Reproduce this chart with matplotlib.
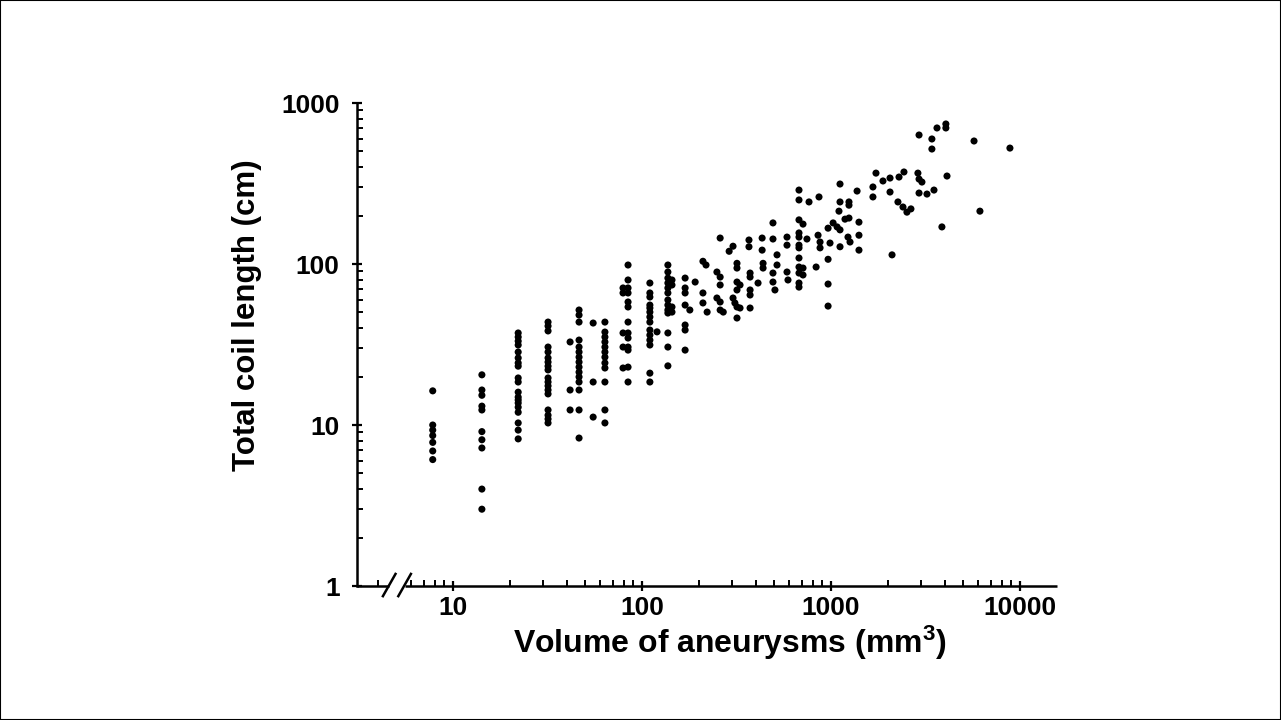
import matplotlib
matplotlib.use("Agg")
import matplotlib.pyplot as plt
from matplotlib.patches import Rectangle
from matplotlib.lines import Line2D
import numpy as np

plt.rcParams['font.family'] = ['Liberation Sans', 'DejaVu Sans']
plt.rcParams['mathtext.fontset'] = 'custom'
plt.rcParams['mathtext.rm'] = 'Liberation Sans:bold'
plt.rcParams['mathtext.default'] = 'rm'

# ---- data: small aneurysms, grouped in columns of equal volume (mm3) ----
col_volumes = [7.8, 14.2, 22.1, 31.8, 41.6, 46.4, 55.1, 63.6, 79.3, 84.3,
               110, 120, 137, 144, 169, 677, 711]
col_lengths = [
    [16.3, 10.0, 9.3, 8.6, 7.8, 6.9, 6.1],
    [20.5, 16.5, 15.3, 13.1, 12.4, 9.1, 8.1, 7.2, 4.0, 3.0],
    [37.3, 35.2, 33.2, 31.4, 28.4, 26.1, 24.3, 23.2, 19.6, 18.5, 16.0, 14.9,
     14.3, 13.7, 12.9, 12.0, 10.3, 9.3, 8.2],
    [43.6, 41.2, 38.4, 30.5, 28.4, 26.1, 24.6, 23.2, 22.0, 19.6, 18.5, 17.5,
     16.5, 15.6, 12.4, 11.5, 10.9, 10.3],
    [32.8, 16.5, 12.4],
    [51.8, 48.2, 43.6, 33.7, 30.5, 28.4, 26.4, 24.6, 22.9, 21.3, 19.9, 18.5,
     16.5, 12.4, 8.3],
    [43.0, 18.5, 11.2],
    [43.6, 37.8, 35.2, 32.8, 30.5, 28.4, 26.4, 24.3, 22.6, 18.5, 12.4, 10.3],
    [71.0, 66.1, 37.3, 30.5, 22.6],
    [98.6, 79.6, 71.0, 66.1, 58.1, 54.1, 43.6, 37.3, 34.7, 30.5, 29.2, 22.9, 18.5],
    [76.2, 66.1, 62.4, 55.6, 53.3, 50.3, 46.9, 43.6, 38.9, 36.2, 33.7, 31.4, 21.0, 18.5],
    [37.9],
    [98.6, 89.2, 81.8, 76.2, 71.0, 66.1, 59.8, 55.6, 51.8, 49.6, 37.3, 30.5, 23.3],
    [79.6, 74.1, 54.1, 50.3],
    [81.8, 71.0, 66.1, 55.6, 41.8, 38.9, 29.2],
    [288, 250, 188, 156, 147, 131, 126, 109, 95.8, 87.9, 76.2, 71.9],
    [177, 94.4, 85.5],
]

# ---- data: medium aneurysms (scattered) ----
mid_volume = [259, 303, 289, 210, 218, 368, 368, 432, 432, 493, 493, 585, 585,
              318, 318, 373, 373, 437, 437, 518, 518, 249, 259, 259, 318, 330,
              318, 373, 373, 411, 493, 493, 505, 585, 592, 191, 179, 210, 210,
              221, 249, 259, 259, 269, 303, 310, 318, 330, 373, 318]
mid_length = [145, 129, 120, 104, 98.6, 141, 128, 145, 122, 180, 143, 147, 131,
              101, 94.4, 87.9, 83.0, 101, 94.4, 114, 98.6, 89.2, 83.0, 74.1, 77.3, 74.1,
              69.0, 69.0, 64.2, 76.2, 87.9, 77.3, 69.0, 89.2, 79.6, 77.3, 51.8, 66.1, 57.3,
              50.3, 61.5, 58.1, 51.8, 50.3, 61.5, 57.3, 54.1, 53.3, 53.3, 46.2]

# ---- data: large aneurysms ----
large_volume = [1730, 1884, 2053, 2291, 2433, 2884, 1667, 1667, 2053, 2261, 2404,
                2523, 2649, 1116, 1374, 1116, 1245, 1245, 1102, 1245, 1186,
                765, 864, 965, 1026, 1077, 1116, 1406, 746, 854, 875, 875, 988,
                1116, 1230, 1261, 1406, 1406, 834, 965, 965, 965, 2104,
                2924, 3639, 4055, 4055, 3420, 3420, 5715, 8851, 2924, 3029, 4111,
                2924, 3221, 3508, 6141, 3864]
large_length = [367, 328, 342, 347, 373, 367, 301, 261, 280, 243, 226,
                210, 220, 314, 284, 243, 243, 232, 213, 193, 190,
                243, 261, 167, 180, 170, 163, 182, 143, 151, 137, 126, 135,
                128, 147, 137, 151, 122, 95.8, 107, 75.1, 54.8, 114,
                633, 700, 741, 700, 598, 518, 581, 525, 337, 323, 352,
                276, 272, 288, 213, 170]

x_ticks = [10, 100, 1000, 10000]
y_ticks = [1, 10, 100, 1000]
x_label = "Volume of aneurysms (mm$^{3}$)"
y_label = "Total coil length (cm)"

# ---- assemble ----
vol = []
length = []
for v, ls in zip(col_volumes, col_lengths):
    vol += [v] * len(ls)
    length += ls
vol += mid_volume + large_volume
length += mid_length + large_length

fig = plt.figure(figsize=(12.81, 7.2), dpi=100)
fig.patches.append(Rectangle((0, 0), 1, 1, transform=fig.transFigure,
                             fill=False, ec='black', lw=1.5))
ax = fig.add_axes([0.2787, 0.1861, 0.5464, 0.6708])
ax.scatter(vol, length, s=26, c='black', edgecolors='none', zorder=3, clip_on=False)

ax.set_xscale('log')
ax.set_yscale('log')
ax.set_xlim(3.10, 15700)
ax.set_ylim(1, 1000)

for s in ['top', 'right', 'bottom']:
    ax.spines[s].set_visible(False)
ax.spines['left'].set_linewidth(1.8)

# broken x axis line
gap_l, gap_r = 0.046, 0.068
for seg in ([0, gap_l], [gap_r, 1]):
    ax.add_line(Line2D(seg, [0, 0], transform=ax.transAxes, color='black',
                       lw=1.8, clip_on=False, solid_capstyle='butt'))
for xc in (gap_l, gap_r):
    ax.add_line(Line2D([xc - 0.009, xc + 0.009], [-0.021, 0.025],
                       transform=ax.transAxes, color='black', lw=1.8, clip_on=False))

ax.set_xticks(x_ticks)
ax.set_xticklabels([str(t) for t in x_ticks])
ax.set_yticks(y_ticks)
ax.set_yticklabels([str(t) for t in y_ticks])

lo, hi = ax.get_xlim()
x_gap_lo = 10 ** (np.log10(lo) + gap_l * (np.log10(hi) - np.log10(lo)))
x_gap_hi = 10 ** (np.log10(lo) + gap_r * (np.log10(hi) - np.log10(lo)))
xminor = [k * 10 ** e for e in range(0, 5) for k in range(2, 10)]
xminor = [m for m in xminor if lo < m < hi and not (x_gap_lo * 0.95 < m < x_gap_hi * 1.05)]
ax.set_xticks(xminor, minor=True)
yminor = [k * 10 ** e for e in range(0, 3) for k in range(2, 10)]
ax.set_yticks(yminor, minor=True)
ax.xaxis.set_minor_formatter(plt.NullFormatter())
ax.yaxis.set_minor_formatter(plt.NullFormatter())

ax.tick_params(axis='both', which='major', direction='inout', length=7, width=1.6,
               labelsize=19)
ax.tick_params(axis='x', which='major', pad=4)
ax.tick_params(axis='y', which='major', pad=9)
ax.tick_params(axis='both', which='minor', direction='in', length=4, width=1.4)
for lab in ax.get_xticklabels() + ax.get_yticklabels():
    lab.set_fontweight('bold')

fig.text(730 / 1281, 1 - 643 / 720, x_label, ha='center', va='center',
         fontsize=23, fontweight='bold')
fig.text(247 / 1281, 1 - 315 / 720, y_label, ha='center', va='center',
         rotation=90, fontsize=22.5, fontweight='bold')

fig.savefig('out.png', dpi=100)
